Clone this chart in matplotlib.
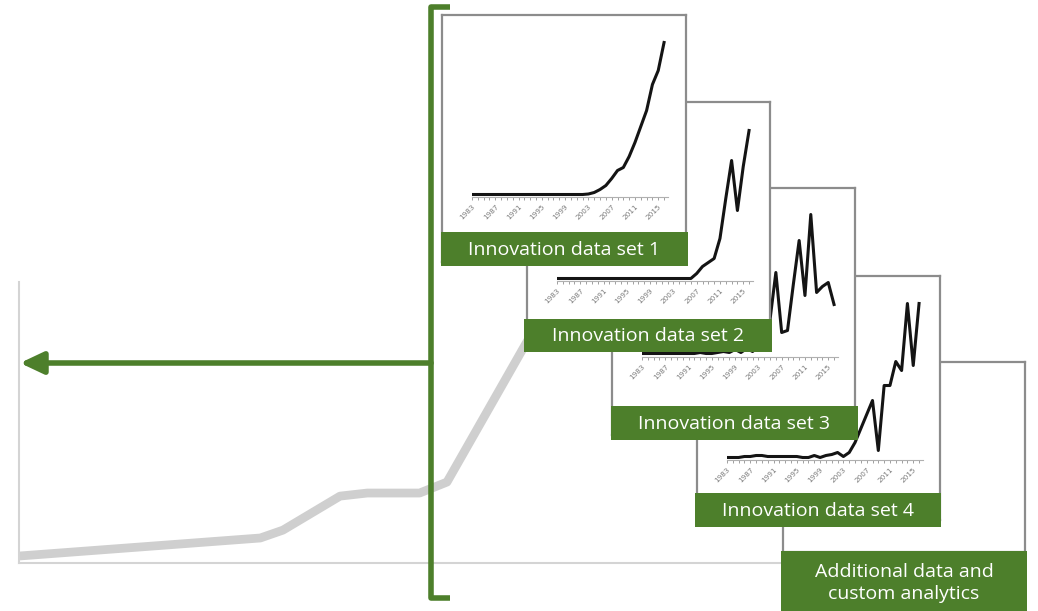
import matplotlib
matplotlib.use("Agg")
import matplotlib.pyplot as plt
from matplotlib.patches import ArrowStyle
from matplotlib.ticker import MultipleLocator, FixedLocator

# ---------------- data ----------------
years = list(range(1983, 2017))
tick_years = [1983, 1987, 1991, 1995, 1999, 2003, 2007, 2011, 2015]

set1 = [0, 0, 0, 0, 0, 0, 0, 0, 0, 0, 0, 0, 0, 0, 0, 0, 0, 0, 0, 0,
        0.5, 2, 5, 9, 16, 24, 27, 38, 52, 68, 84, 110, 124, 152]
set2 = [0, 0, 0, 0, 0, 0, 0, 0, 0, 0, 0, 0, 0, 0, 0, 0, 0, 0, 0, 0, 0, 0, 0, 0,
        5, 12, 16, 20, 40, 80, 118, 68, 112, 148]
set3 = [1, 1, 1, 1, 1, 1, 1, 1, 1, 1, 2, 1, 1, 2,
        3, 2, 5, 2, 6, 3, 8, 5, 35, 82, 22, 24, 70, 114, 59, 140, 62, 68, 72, 50]
set4 = [0, 0, 0, 1, 1, 2, 2, 1, 1, 1, 1, 1, 1, 0, 0, 2, 0, 2, 3, 5,
        1, 5, 15, 29, 43, 57, 7, 72, 72, 96, 87, 154, 92, 154]

bg_x = [0.1, 30.9, 33.8, 41.1, 44.6, 51.3, 54.8, 64.8, 69.3]
bg_y = [2.5, 8.9, 11.7, 23.8, 24.9, 24.9, 28.8, 77.6, 99.0]

panel_labels = ["Innovation data set 1", "Innovation data set 2",
                "Innovation data set 3", "Innovation data set 4",
                "Additional data and\ncustom analytics"]

# ---------------- style ----------------
GREEN = "#4d7f2b"
FRAME = "#8c8c8c"
FONT = ["Open Sans", "DejaVu Sans"]

W, H = 1038, 611
fig = plt.figure(figsize=(W / 100, H / 100), dpi=100)
fig.patch.set_facecolor("white")


def px_axes(x0, y0, x1, y1, z):
    """axes from pixel box (top-left origin)"""
    return fig.add_axes([x0 / W, 1 - y1 / H, (x1 - x0) / W, (y1 - y0) / H], zorder=z)


# ---------------- background chart ----------------
bg = px_axes(19, 282, 800, 563, 1)
bg.plot(bg_x, bg_y, color="#cfcfcf", lw=6.3, solid_joinstyle="round", solid_capstyle="butt")
bg.set_xlim(0, 100)
bg.set_ylim(0, 100)
for s in ["top", "right"]:
    bg.spines[s].set_visible(False)
for s in ["left", "bottom"]:
    bg.spines[s].set_color("#d4d4d4")
    bg.spines[s].set_linewidth(1.5)
bg.set_xticks([])
bg.set_yticks([])
bg.patch.set_alpha(0)

# ---------------- bracket + arrow ----------------
ov = px_axes(0, 0, W, H, 2)
ov.set_xlim(0, W)
ov.set_ylim(H, 0)
ov.axis("off")
ov.patch.set_alpha(0)
ov.plot([450, 431, 431, 450], [7, 7, 598, 598], color=GREEN, lw=4,
        solid_joinstyle="round", solid_capstyle="butt")
ov.annotate("", xy=(20, 363), xytext=(431, 363),
            arrowprops=dict(arrowstyle=ArrowStyle("-|>", head_length=0.7, head_width=0.33),
                            mutation_scale=20, color=GREEN, lw=4,
                            shrinkA=0, shrinkB=0))

# ---------------- panels ----------------
panels = [
    dict(frame=(442, 15, 686, 262), inner=(472, 197), label=(441, 232, 688, 266), data=set1),
    dict(frame=(527, 102, 770, 348), inner=(557, 281), label=(524, 319, 772, 352), data=set2),
    dict(frame=(612, 188, 855, 435), inner=(642, 357), label=(611, 406, 858, 440), data=set3),
    dict(frame=(697, 276, 940, 520), inner=(727, 460), label=(695, 493, 941, 527), data=set4),
    dict(frame=(783, 362, 1025, 552), inner=None, label=(781, 551, 1027, 611), data=None),
]

PX_PER_YEAR = 5.82
for i, p in enumerate(panels):
    z = 20 - 3 * i
    fx0, fy0, fx1, fy1 = p["frame"]
    fr = px_axes(fx0, fy0, fx1, fy1, z)
    fr.set_xticks([])
    fr.set_yticks([])
    fr.set_facecolor("white")
    for s in fr.spines.values():
        s.set_color(FRAME)
        s.set_linewidth(1.6)

    if p["inner"] is not None:
        lx, base = p["inner"]
        span = 33.6
        ia = px_axes(lx, base - 160, lx + span * PX_PER_YEAR, base, z + 0.5)
        ia.plot(years, p["data"], color="#141414", lw=2.2, solid_joinstyle="round")
        ia.set_xlim(1983, 1983 + span)
        ia.set_ylim(-2.5, 157.5)
        ia.patch.set_alpha(0)
        for s in ["top", "right", "left"]:
            ia.spines[s].set_visible(False)
        ia.spines["bottom"].set_color("#b0b0b0")
        ia.spines["bottom"].set_linewidth(0.8)
        ia.set_yticks([])
        ia.xaxis.set_major_locator(FixedLocator(tick_years))
        ia.xaxis.set_minor_locator(MultipleLocator(1))
        ia.tick_params(axis="x", which="both", length=2.2, width=0.7, color="#a0a0a0",
                       labelsize=5.2, labelcolor="#7a7a7a", pad=2.5)
        ia.set_xticklabels([str(y) for y in tick_years], rotation=45, ha="right",
                           rotation_mode="anchor")

    bx0, by0, bx1, by1 = p["label"]
    lb = px_axes(bx0, by0, bx1, by1, z + 1)
    lb.set_facecolor(GREEN)
    lb.set_xticks([])
    lb.set_yticks([])
    for s in lb.spines.values():
        s.set_visible(False)
    lb.text(0.5, 0.47, panel_labels[i], transform=lb.transAxes, ha="center", va="center",
            color="white", fontsize=14, family=FONT, linespacing=1.32)

fig.savefig("out.png", dpi=100, facecolor="white")
